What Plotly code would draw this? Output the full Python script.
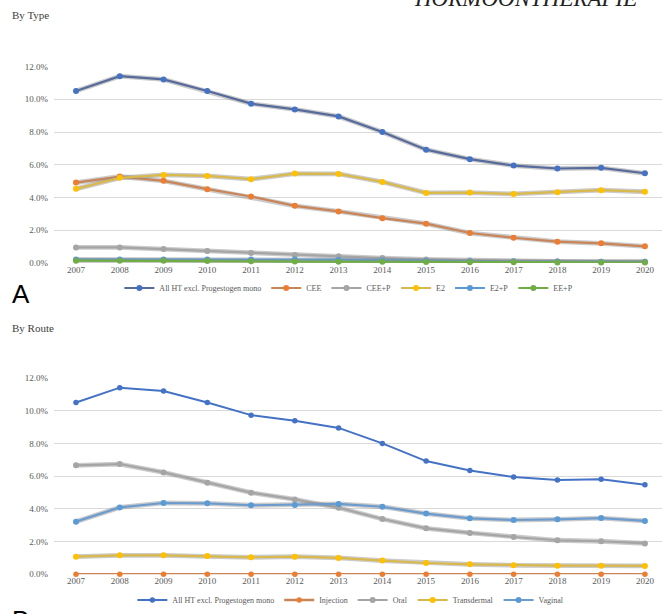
import plotly.graph_objects as go

years = list(range(2007, 2021))
year_labels = [str(y) for y in years]

# Panel A: by type (% of women)
all_ht = [10.50, 11.41, 11.21, 10.50, 9.73, 9.38, 8.95, 8.00, 6.92, 6.34, 5.95, 5.77, 5.81, 5.48]
cee = [4.91, 5.28, 5.02, 4.51, 4.06, 3.49, 3.15, 2.74, 2.40, 1.83, 1.54, 1.30, 1.20, 1.02]
cee_p = [0.95, 0.95, 0.85, 0.73, 0.61, 0.49, 0.41, 0.30, 0.22, 0.16, 0.12, 0.10, 0.08, 0.08]
e2 = [4.53, 5.20, 5.38, 5.32, 5.12, 5.46, 5.44, 4.95, 4.28, 4.30, 4.22, 4.32, 4.45, 4.35]
e2_p = [0.22, 0.22, 0.22, 0.22, 0.21, 0.21, 0.20, 0.17, 0.13, 0.10, 0.09, 0.08, 0.07, 0.07]
ee_p = [0.14, 0.14, 0.13, 0.12, 0.10, 0.09, 0.08, 0.07, 0.06, 0.05, 0.04, 0.03, 0.03, 0.03]

# Panel B: by route
injection = [0.01] * 14
oral = [6.66, 6.74, 6.23, 5.60, 4.99, 4.58, 4.07, 3.38, 2.81, 2.53, 2.28, 2.08, 2.02, 1.89]
transdermal = [1.08, 1.16, 1.16, 1.12, 1.04, 1.08, 1.00, 0.84, 0.69, 0.61, 0.55, 0.53, 0.53, 0.51]
vaginal = [3.22, 4.09, 4.36, 4.34, 4.22, 4.24, 4.30, 4.13, 3.71, 3.42, 3.32, 3.36, 3.44, 3.26]

y_ticks = [0, 2, 4, 6, 8, 10, 12]

W, H = 662, 614
SERIF = "Liberation Serif, Times New Roman, serif"
SANS = "Liberation Sans, Arial, sans-serif"

fig = go.Figure()

HALO = "rgba(140,140,140,0.45)"


def add_series(name, vals, line_color, marker_color, xa, ya, legend, halo=True, width=2.2, msize=6):
    if halo:
        fig.add_trace(go.Scatter(
            x=years, y=vals, mode="lines", xaxis=xa, yaxis=ya,
            line=dict(color=HALO, width=width + 2.6), showlegend=False,
            hoverinfo="skip", cliponaxis=False))
    fig.add_trace(go.Scatter(
        x=years, y=vals, mode="lines+markers", name=name, xaxis=xa, yaxis=ya,
        legend=legend, cliponaxis=False,
        line=dict(color=line_color, width=width),
        marker=dict(color=marker_color, size=msize, symbol="circle")))


# Panel A
add_series("All HT excl. Progestogen mono", all_ht, "#566b9b", "#4472c4", "x", "y", "legend")
add_series("CEE", cee, "#c98558", "#ed7d31", "x", "y", "legend")
add_series("CEE+P", cee_p, "#a5a5a5", "#a5a5a5", "x", "y", "legend")
add_series("E2", e2, "#d9b84c", "#ffc000", "x", "y", "legend")
add_series("E2+P", e2_p, "#5b9bd5", "#5b9bd5", "x", "y", "legend")
add_series("EE+P", ee_p, "#70ad47", "#70ad47", "x", "y", "legend")

# Panel B
add_series("All HT excl. Progestogen mono", all_ht, "#4472c4", "#4472c4", "x2", "y2", "legend2", halo=False, width=2.0, msize=5.5)
add_series("Injection", injection, "#c98558", "#ed7d31", "x2", "y2", "legend2", halo=False, width=2.4, msize=5.5)
add_series("Oral", oral, "#a5a5a5", "#a5a5a5", "x2", "y2", "legend2")
add_series("Transdermal", transdermal, "#d9b84c", "#ffc000", "x2", "y2", "legend2")
add_series("Vaginal", vaginal, "#6c9cce", "#5b9bd5", "x2", "y2", "legend2")


def px_x(p):
    return p / W


def px_y(p):
    return 1 - p / H


xrange_ = [2006.497, 2020.39]
xdom = [px_x(54), 1.0]
tickfont = dict(family=SERIF, size=9, color="#595959")

xaxis_common = dict(range=xrange_, domain=xdom, tickmode="array", tickvals=years,
                    ticktext=year_labels, showgrid=False, zeroline=False,
                    showline=False, ticks="", tickfont=tickfont, fixedrange=True,
                    automargin=False)
yaxis_common = dict(range=[0, 12], tickmode="array", tickvals=y_ticks,
                    ticktext=[f"{v:.1f}%" for v in y_ticks], showgrid=True,
                    gridcolor="#d9d9d9", gridwidth=1, zeroline=False, showline=False,
                    ticks="", tickfont=tickfont, ticklabelstandoff=5, fixedrange=True,
                    automargin=False)

fig.update_layout(
    width=W, height=H,
    margin=dict(l=0, r=0, t=0, b=0, pad=0, autoexpand=False),
    paper_bgcolor="white", plot_bgcolor="white",
    xaxis=dict(**xaxis_common, anchor="y"),
    yaxis=dict(**yaxis_common, domain=[px_y(263), px_y(66.5)], anchor="x"),
    xaxis2=dict(**xaxis_common, anchor="y2"),
    yaxis2=dict(**yaxis_common, domain=[px_y(574.3), px_y(378)], anchor="x2"),
    legend=dict(orientation="h", x=0.527, y=px_y(288), xanchor="center", yanchor="middle",
                font=dict(family=SERIF, size=8, color="#595959"), itemwidth=30,
                bgcolor="rgba(0,0,0,0)", tracegroupgap=0),
    legend2=dict(orientation="h", x=0.53, y=px_y(600), xanchor="center", yanchor="middle",
                 font=dict(family=SERIF, size=8, color="#595959"), itemwidth=30,
                 bgcolor="rgba(0,0,0,0)", tracegroupgap=0),
    showlegend=True,
)

annotations = [
    dict(text="By Type", x=px_x(10), y=px_y(15), xanchor="left", yanchor="middle",
         font=dict(family=SERIF, size=11, color="#404040")),
    dict(text="By Route", x=px_x(10), y=px_y(328), xanchor="left", yanchor="middle",
         font=dict(family=SERIF, size=11, color="#404040")),
    dict(text="A", x=px_x(10), y=px_y(294), xanchor="left", yanchor="middle",
         font=dict(family=SANS, size=26, color="#000000")),
    dict(text="B", x=px_x(10), y=px_y(620), xanchor="left", yanchor="middle",
         font=dict(family=SANS, size=26, color="#000000")),
    dict(text="<i>HORMOONTHERAPIE</i>", x=px_x(525), y=px_y(-2), xanchor="center", yanchor="middle",
         font=dict(family=SERIF, size=23, color="#222222")),
]
for a in annotations:
    a.update(xref="paper", yref="paper", showarrow=False)
fig.update_layout(annotations=annotations)

fig.write_html(
    "out.html",
    config={"displayModeBar": False},
    post_script="document.body.style.margin='0';document.body.style.padding='0';"
                "document.body.style.overflow='hidden';",
)
